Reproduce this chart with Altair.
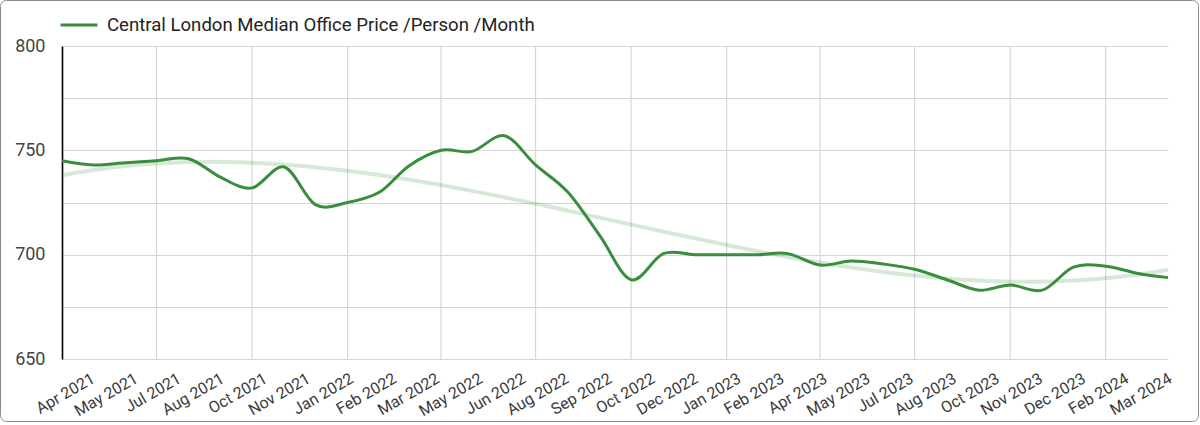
import altair as alt
import pandas as pd

# ---------------- data ----------------
series_name = "Central London Median Office Price /Person /Month"
months = pd.date_range("2021-04-01", "2024-03-01", freq="MS").strftime("%Y-%m-%d").tolist()
prices = [745, 743, 744, 745, 746, 737, 732, 742, 724, 725, 730, 742.5,
          750, 749.5, 757, 743, 730, 709, 688, 700.5, 700, 700, 700, 700.5,
          695, 697, 695.5, 693, 688, 683, 685.5, 683, 694, 694.5, 691, 689]

tick_labels = ["Apr 2021", "May 2021", "Jul 2021", "Aug 2021", "Oct 2021", "Nov 2021",
               "Jan 2022", "Feb 2022", "Mar 2022", "May 2022", "Jun 2022", "Aug 2022",
               "Sep 2022", "Oct 2022", "Dec 2022", "Jan 2023", "Feb 2023", "Apr 2023",
               "May 2023", "Jul 2023", "Aug 2023", "Oct 2023", "Nov 2023", "Dec 2023",
               "Feb 2024", "Mar 2024"]
grid_dates = ["2021-07-01", "2021-10-01", "2022-01-01", "2022-04-01", "2022-07-01",
              "2022-10-01", "2023-01-01", "2023-04-01", "2023-07-01", "2023-10-01",
              "2024-01-01"]
y_ticks = [650, 675, 700, 725, 750, 775, 800]

# tick positions for the slanted labels, evenly spread along the axis
tick_times = pd.date_range("2021-04-27", "2024-02-28", periods=len(tick_labels), tz="UTC")
tick_ms = [int(t.value // 10**6) for t in tick_times]

df = pd.DataFrame({"month": months, "price": prices, "series": series_name})
grid_df = pd.DataFrame({"date": grid_dates})

label_expr = ("[" + ",".join("'" + s + "'" for s in tick_labels) + "][indexof(["
              + ",".join(str(m) for m in tick_ms) + "], time(datum.value))]")

GREEN = "#388e3c"
FONT = "Roboto"

x_scale = alt.Scale(domain=["2021-04-01", "2024-03-01"])
y_scale = alt.Scale(domain=[650, 800], nice=False, zero=False)

grid = alt.Chart(grid_df).mark_rule(color="#d6d6d6", strokeWidth=1.2).encode(
    x=alt.X("date:T", scale=x_scale),
)

trend = alt.Chart(df).mark_line(color=GREEN, opacity=0.2, strokeWidth=4).encode(
    x=alt.X("month:T", scale=x_scale),
    y=alt.Y("price:Q", scale=y_scale),
).transform_regression("month", "price", method="poly", order=3)

line = alt.Chart(df).mark_line(strokeWidth=3, interpolate="cardinal").encode(
    x=alt.X("month:T", scale=x_scale, title=None,
            axis=alt.Axis(values=tick_ms, labelExpr=label_expr, labelAngle=-30,
                          grid=False, ticks=False, domain=False, labelPadding=11,
                          labelFont=FONT, labelFontSize=16, labelColor="#3a3a3a",
                          labelOverlap=False, labelBound=False, labelFlush=False)),
    y=alt.Y("price:Q", scale=y_scale, title=None,
            axis=alt.Axis(values=y_ticks,
                          labelExpr="datum.value % 50 == 0 ? datum.label : ''",
                          grid=True, gridColor="#d6d6d6", gridWidth=1.2,
                          ticks=False, domain=True, domainColor="#000",
                          domainWidth=1.6, labelPadding=17,
                          labelFont=FONT, labelFontSize=18, labelColor="#444")),
    color=alt.Color("series:N", scale=alt.Scale(range=[GREEN]),
                    legend=alt.Legend(title=None, orient="none", legendX=-3, legendY=-41,
                                      padding=0,
                                      symbolType="stroke", symbolSize=1369,
                                      symbolStrokeWidth=3, labelFont=FONT,
                                      labelFontSize=18.6, labelColor="#222",
                                      labelLimit=700, labelOffset=8)),
)

frame = alt.Chart(pd.DataFrame({"k": [0]})).mark_rect(
    fill=None, stroke="#8a8a8a", strokeWidth=1, cornerRadius=6
).encode(x=alt.value(-61.5), x2=alt.value(1136.5), y=alt.value(-45.5), y2=alt.value(375.5))

chart = alt.layer(grid, trend, line, frame).properties(
    width=1106, height=313,
    autosize=alt.AutoSizeParams(type="none"),
    padding={"left": 62, "top": 46, "right": 32, "bottom": 66},
    background="white",
).configure_view(stroke=None)

chart.save("out.html", embed_options={"renderer": "svg", "actions": False})
